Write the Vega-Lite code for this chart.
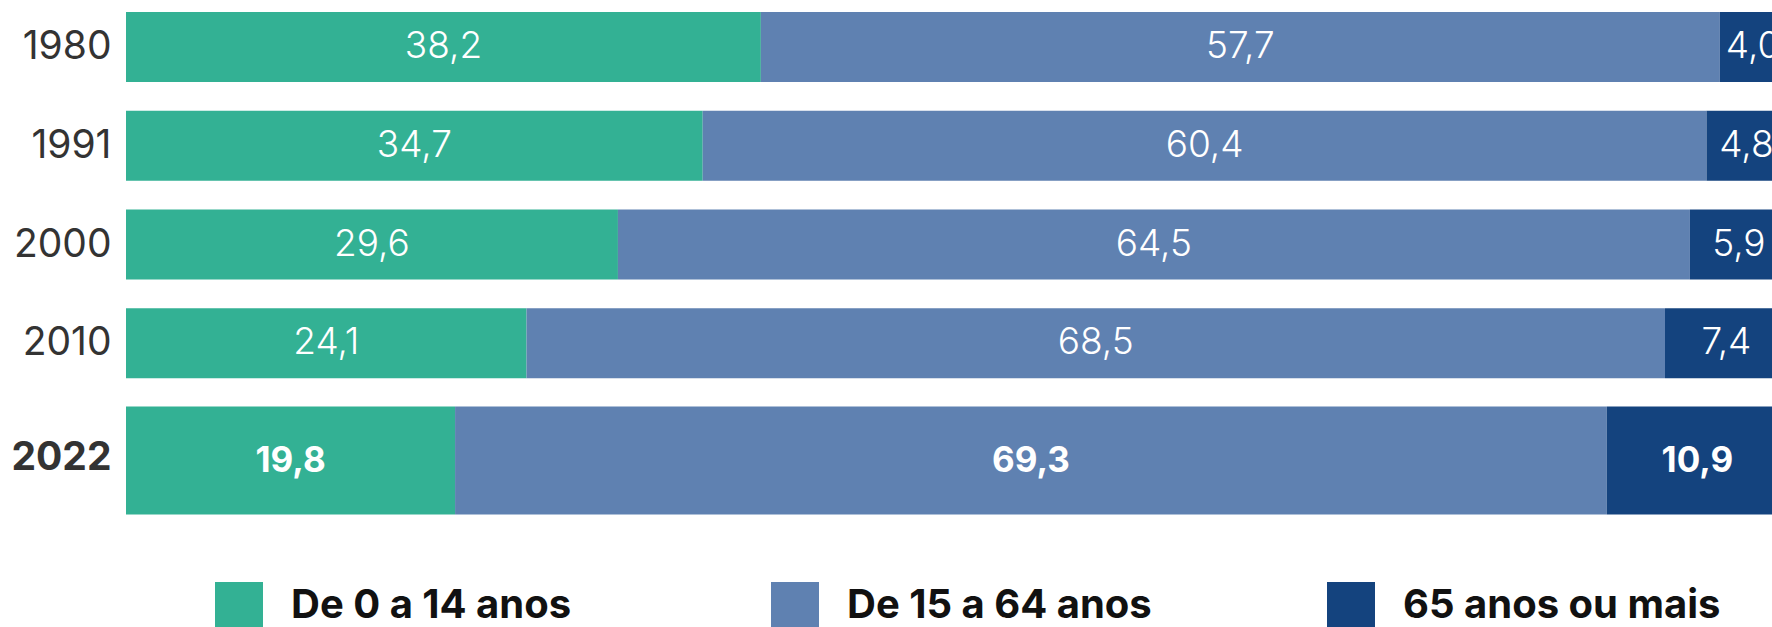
{
  "$schema": "https://vega.github.io/schema/vega-lite/v6.json",
  "width": 1646,
  "height": 489,
  "autosize": {"type": "none"},
  "padding": {"left": 126, "top": 0, "right": 0, "bottom": 138},
  "background": "white",
  "config": {
    "view": {"stroke": null},
    "font": "Inter",
    "locale": {"number": {"decimal": ",", "thousands": ".", "grouping": [3], "currency": ["R$", ""]}}
  },
  "data": {
    "values": [
      {"year": "1980", "group": "De 0 a 14 anos", "ord": 1, "v": 38.2},
      {"year": "1980", "group": "De 15 a 64 anos", "ord": 2, "v": 57.7},
      {"year": "1980", "group": "65 anos ou mais", "ord": 3, "v": 4.0},
      {"year": "1991", "group": "De 0 a 14 anos", "ord": 1, "v": 34.7},
      {"year": "1991", "group": "De 15 a 64 anos", "ord": 2, "v": 60.4},
      {"year": "1991", "group": "65 anos ou mais", "ord": 3, "v": 4.8},
      {"year": "2000", "group": "De 0 a 14 anos", "ord": 1, "v": 29.6},
      {"year": "2000", "group": "De 15 a 64 anos", "ord": 2, "v": 64.5},
      {"year": "2000", "group": "65 anos ou mais", "ord": 3, "v": 5.9},
      {"year": "2010", "group": "De 0 a 14 anos", "ord": 1, "v": 24.1},
      {"year": "2010", "group": "De 15 a 64 anos", "ord": 2, "v": 68.5},
      {"year": "2010", "group": "65 anos ou mais", "ord": 3, "v": 7.4},
      {"year": "2022", "group": "De 0 a 14 anos", "ord": 1, "v": 19.8},
      {"year": "2022", "group": "De 15 a 64 anos", "ord": 2, "v": 69.3},
      {"year": "2022", "group": "65 anos ou mais", "ord": 3, "v": 10.9}
    ]
  },
  "transform": [
    {"stack": "v", "groupby": ["year"], "sort": [{"field": "ord", "order": "ascending"}], "as": ["v0", "v1"]},
    {"calculate": "(datum.v0 + datum.v1) / 2", "as": "vm"}
  ],
  "encoding": {
    "y": {
      "field": "year",
      "type": "nominal",
      "sort": ["1980", "1991", "2000", "2010", "2022"],
      "scale": {"paddingInner": 0.05, "paddingOuter": 0},
      "axis": {
        "title": null,
        "domain": false,
        "ticks": false,
        "labelPadding": 15,
        "labelFont": "Inter",
        "labelFontSize": 39,
        "labelColor": "#333333",
        "labelBaseline": "middle",
        "labelFontWeight": {"condition": {"test": "datum.value == '2022'", "value": "bold"}, "value": "normal"},
        "labelOffset": {"condition": {"test": "datum.value == '2022'", "value": 16}, "value": 0}
      }
    }
  },
  "layer": [
    {
      "transform": [{"filter": "datum.year != '2022'"}],
      "mark": {"type": "bar", "size": 70},
      "encoding": {
        "x": {
          "field": "v0",
          "type": "quantitative",
          "scale": {"domain": [0, 99.04], "nice": false, "zero": true},
          "axis": null
        },
        "x2": {"field": "v1"},
        "color": {
          "field": "group",
          "type": "nominal",
          "scale": {
            "domain": ["De 0 a 14 anos", "De 15 a 64 anos", "65 anos ou mais"],
            "range": ["#33B194", "#5F81B1", "#14437E"]
          },
          "legend": {
            "title": null,
            "orient": "none",
            "legendX": 89,
            "legendY": 582,
            "direction": "horizontal",
            "columns": 3,
            "gridAlign": "all",
            "symbolType": "square",
            "symbolSize": 2304,
            "symbolStrokeWidth": 0,
            "symbolOpacity": 1,
            "labelFont": "Inter",
            "labelFontSize": 40,
            "labelFontWeight": "bold",
            "labelColor": "#111111",
            "labelOffset": 28,
            "labelLimit": 600,
            "columnPadding": 162
          }
        }
      }
    },
    {
      "transform": [{"filter": "datum.year == '2022'"}],
      "mark": {"type": "bar", "size": 108, "yOffset": 18.5},
      "encoding": {
        "x": {"field": "v0", "type": "quantitative"},
        "x2": {"field": "v1"},
        "color": {"field": "group", "type": "nominal"}
      }
    },
    {
      "transform": [{"filter": "datum.year != '2022'"}],
      "mark": {"type": "text", "color": "white", "font": "Inter", "fontSize": 37, "fontWeight": 300, "baseline": "middle", "align": "center"},
      "encoding": {
        "x": {"field": "vm", "type": "quantitative"},
        "text": {"field": "v", "type": "quantitative", "format": ".1f"}
      }
    },
    {
      "transform": [{"filter": "datum.year == '2022'"}],
      "mark": {"type": "text", "color": "white", "font": "Inter", "fontSize": 35, "fontWeight": "bold", "baseline": "middle", "align": "center", "yOffset": 18.5},
      "encoding": {
        "x": {"field": "vm", "type": "quantitative"},
        "text": {"field": "v", "type": "quantitative", "format": ".1f"}
      }
    }
  ]
}
